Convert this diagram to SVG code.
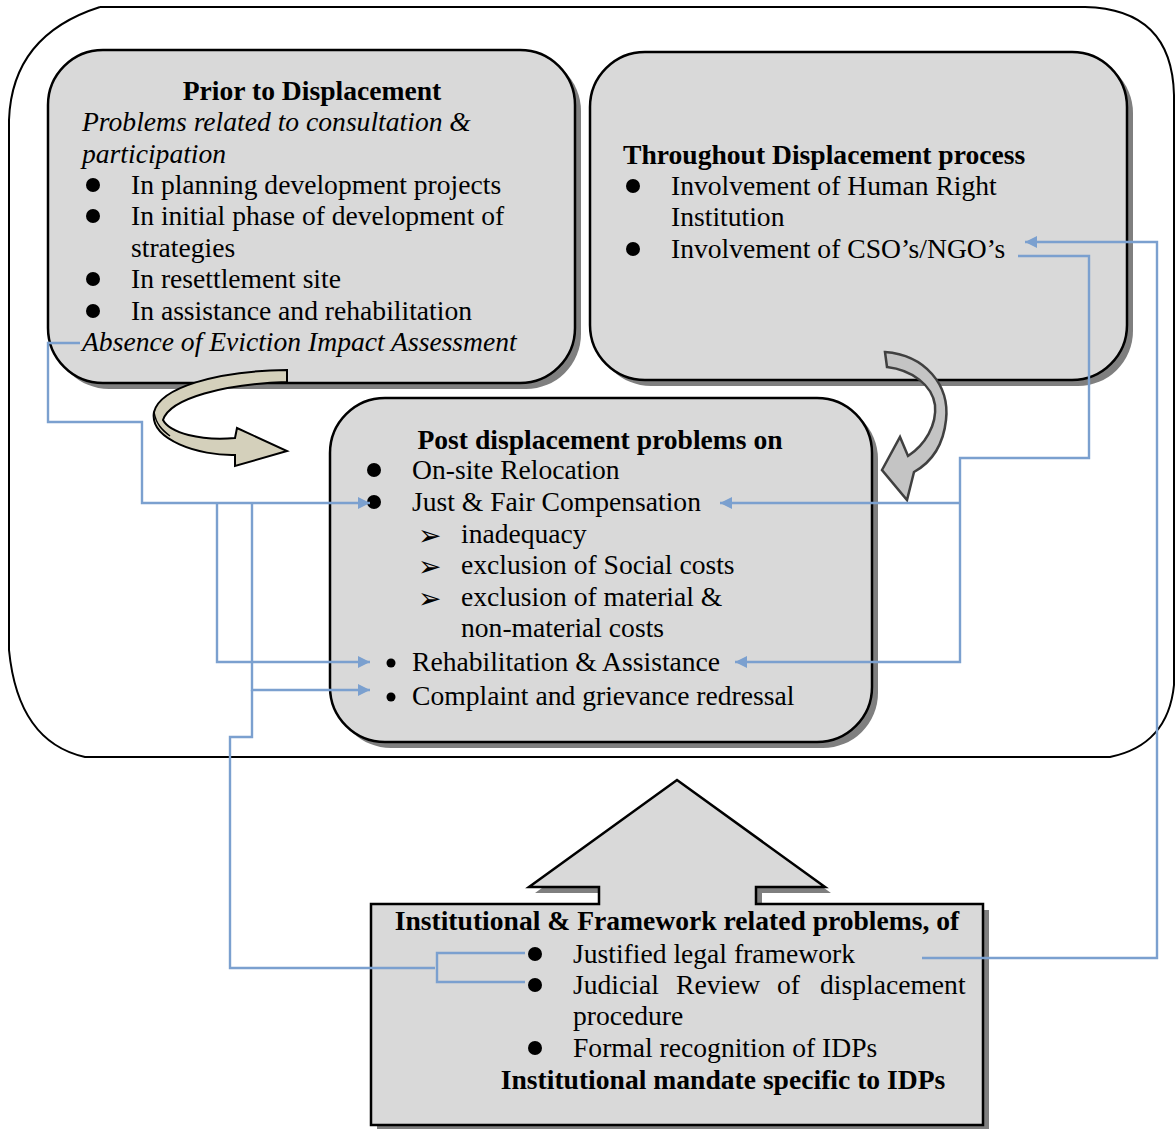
<svg xmlns="http://www.w3.org/2000/svg" width="1176" height="1129" viewBox="0 0 1176 1129">
<defs>
<style>
.t{font-family:"Liberation Serif","Times New Roman",serif;font-size:27.6px;fill:#000}
.b{font-weight:bold}
.i{font-style:italic}
.m{text-anchor:middle}
.box{fill:#d9d9d9;stroke:#000;stroke-width:2.5}
.sh{fill:#7f7f7f}
.c{fill:none;stroke:#7ba0cf;stroke-width:2.4}
.ar{font-family:"DejaVu Sans",sans-serif;font-size:28px;font-weight:bold;fill:#000}
</style>
<marker id="ah2" viewBox="0 0 10 10" refX="10" refY="5" markerWidth="15" markerHeight="12" markerUnits="userSpaceOnUse" orient="auto">
<path d="M0,0 L10,5 L0,10 Z" fill="#7ba0cf"/>
</marker>
</defs>
<rect width="1176" height="1129" fill="#fff"/>

<g id="outer-frame">
<path d="M100,7 L1085,7 Q1172,9 1174,95 L1174,685 Q1168,745 1110,757 L85,757 Q18,742 9,650 L9,120 Q12,35 100,7" fill="none" stroke="#000" stroke-width="2"/>
</g>

<g id="node-prior">
<rect class="sh" x="54" y="56" width="527" height="333" rx="55"/>
<rect class="box" x="48" y="50" width="527" height="333" rx="55"/>
<text class="t b m" x="312" y="100">Prior to Displacement</text>
<text class="t i" x="82" y="131">Problems related to consultation &amp;</text>
<text class="t i" x="82" y="163">participation</text>
<circle cx="93" cy="185" r="7"/>
<text class="t" x="131" y="194">In planning development projects</text>
<circle cx="93" cy="216" r="7"/>
<text class="t" x="131" y="225">In initial phase of development of</text>
<text class="t" x="131" y="257">strategies</text>
<circle cx="93" cy="279" r="7"/>
<text class="t" x="131" y="288">In resettlement site</text>
<circle cx="93" cy="311" r="7"/>
<text class="t" x="131" y="320">In assistance and rehabilitation</text>
<text class="t i" x="82" y="351">Absence of Eviction Impact Assessment</text>
</g>

<g id="node-throughout">
<rect class="sh" x="596" y="58" width="537" height="328" rx="55"/>
<rect class="box" x="590" y="52" width="537" height="328" rx="55"/>
<text class="t b" x="623" y="164">Throughout Displacement process</text>
<circle cx="633" cy="186" r="7"/>
<text class="t" x="671" y="195">Involvement of Human Right</text>
<text class="t" x="671" y="226">Institution</text>
<circle cx="633" cy="249" r="7"/>
<text class="t" x="671" y="258">Involvement of CSO’s/NGO’s</text>
</g>

<g id="node-post">
<rect class="sh" x="336" y="404" width="542" height="344" rx="55"/>
<rect class="box" x="330" y="398" width="542" height="344" rx="55"/>
<text class="t b m" x="600" y="449">Post displacement problems on</text>
<circle cx="374" cy="470" r="7"/>
<text class="t" x="412" y="479">On-site Relocation</text>
<circle cx="374" cy="502" r="7"/>
<text class="t" x="412" y="511">Just &amp; Fair Compensation</text>
<text class="ar" x="418" y="545">➢</text>
<text class="t" x="461" y="543">inadequacy</text>
<text class="ar" x="418" y="576">➢</text>
<text class="t" x="461" y="574">exclusion of Social costs</text>
<text class="ar" x="418" y="608">➢</text>
<text class="t" x="461" y="606">exclusion of material &amp;</text>
<text class="t" x="461" y="637">non-material costs</text>
<circle cx="391" cy="663" r="4.5"/>
<text class="t" x="412" y="671">Rehabilitation &amp; Assistance</text>
<circle cx="391" cy="697" r="4.5"/>
<text class="t" x="412" y="705">Complaint and grievance redressal</text>
</g>

<g id="node-institutional">
<path class="sh" d="M377,910 L605,910 L605,893 L535,893 L683,786 L831,893 L762,893 L762,910 L989,910 L989,1131 L377,1131 Z"/>
<path class="box" d="M371,904 L599,904 L599,887 L529,887 L677,780 L825,887 L756,887 L756,904 L983,904 L983,1125 L371,1125 Z"/>
<text class="t b m" x="677" y="930">Institutional &amp; Framework related problems, of</text>
<circle cx="535" cy="954" r="7"/>
<text class="t" x="573" y="963">Justified legal framework</text>
<circle cx="535" cy="985" r="7"/>
<text class="t" y="994"><tspan x="573">Judicial</tspan><tspan x="676">Review</tspan><tspan x="777">of</tspan><tspan x="820">displacement</tspan></text>
<text class="t" x="573" y="1025">procedure</text>
<circle cx="535" cy="1048" r="7"/>
<text class="t" x="573" y="1057">Formal recognition of IDPs</text>
<text class="t b m" x="723" y="1089">Institutional mandate specific to IDPs</text>
</g>

<g id="curved-arrows">
<path d="M287,370 C215,371 160,388 154,412 C149,440 200,456 235,455 L235,466 L287,451 L237,428 L235,438 C200,441 170,433 163,420 C170,398 225,384 287,382 Z" fill="#d4d0bb" stroke="#000" stroke-width="2"/>
<path d="M154,412 C156,424 162,430 170,436" fill="none" stroke="#000" stroke-width="1.5"/>
<path d="M885,352 C925,355 950,385 946,420 C943,448 930,463 914,472 L907,500 L882,470 L900,437 L908,456 C925,445 937,425 935,405 C932,385 912,370 887,367 Z" fill="#c4c4c4" stroke="#404040" stroke-width="2.5"/>
</g>

<g id="connectors">
<path class="c" d="M80,343 L48,343 L48,422 L142,422 L142,503 L370,503" marker-end="url(#ah2)"/>
<path class="c" d="M217,503 L217,662 L370,662" marker-end="url(#ah2)"/>
<path class="c" d="M252,503 L252,690 L370,690" marker-end="url(#ah2)"/>
<path class="c" d="M252,690 L252,737 L230,737 L230,968 L435,968"/>
<path class="c" d="M525,953 L437,953 L437,982 L525,982"/>
<path class="c" d="M1018,256 L1089,256 L1089,458 L960,458 L960,662 L735,662" marker-end="url(#ah2)"/>
<path class="c" d="M960,503 L720,503" marker-end="url(#ah2)"/>
<path class="c" d="M922,958 L1157,958 L1157,242 L1025,242" stroke-width="2.8" marker-end="url(#ah2)"/>
</g>
</svg>
